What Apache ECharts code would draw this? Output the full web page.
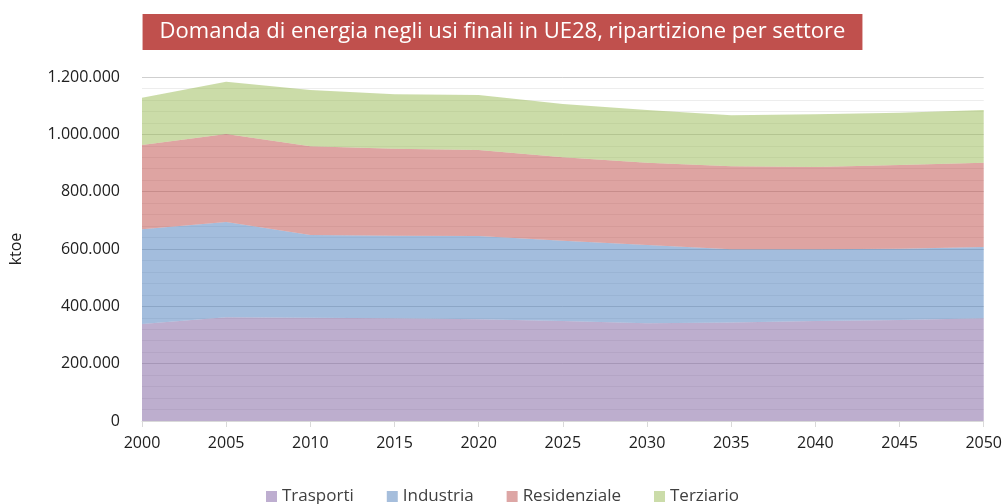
<!DOCTYPE html>
<html>
<head>
<meta charset="utf-8">
<script src="https://cdn.jsdelivr.net/npm/echarts@6/dist/echarts.min.js"></script>
<style>html,body{margin:0;padding:0;background:#fff}#c{width:1005px;height:504px}</style>
</head>
<body>
<div id="c"></div>
<script>
const years = ['2000','2005','2010','2015','2020','2025','2030','2035','2040','2045','2050'];
const trasporti    = [338000, 362000, 360000, 358000, 355000, 349000, 341000, 344000, 349000, 352000, 358000];
const industria    = [331000, 332000, 289000, 288000, 290000, 280000, 273000, 255000, 250000, 249000, 249000];
const residenziale = [294000, 307000, 309000, 304000, 300000, 291000, 287000, 290000, 287000, 292000, 294000];
const terziario    = [165000, 182000, 197000, 190000, 192000, 186000, 184000, 178000, 184000, 182000, 184000];
const seriesNames = ['Trasporti','Industria','Residenziale','Terziario'];
const seriesData = [trasporti, industria, residenziale, terziario];
const colors = ['#8064A2','#4F81BD','#C0504D','#9BBB59'];
const legendColors = ['#BEAED0','#A6BEDC','#DDA6A5','#CBDCA9'];

const fmt = v => String(v).replace(/\B(?=(\d{3})+(?!\d))/g, '.');
const font = 'Open Sans';

const chart = echarts.init(document.getElementById('c'), null, {renderer:'canvas'});
chart.setOption({
  animation: false,
  textStyle: {fontFamily: font},
  title: {
    text: 'Domanda di energia negli usi finali in UE28, ripartizione per settore',
    left: 'center', top: 14,
    backgroundColor: '#C0504D',
    padding: [7, 17, 7, 17],
    textStyle: {color: '#ffffff', fontFamily: font, fontSize: 22, fontWeight: 'normal'}
  },
  legend: {
    top: 483, left: 'center',
    icon: 'rect', itemWidth: 11, itemHeight: 11, itemGap: 33,
    textStyle: {color: '#404040', fontSize: 17, fontFamily: font},
    data: seriesNames
  },
  grid: {left: 142, right: 20, top: 77, bottom: 83, containLabel: false},
  xAxis: {
    type: 'category', data: years, boundaryGap: false,
    axisLine: {lineStyle: {color: '#d9d9d9'}},
    axisTick: {show: true, length: 6, lineStyle: {color: '#d9d9d9'}},
    axisLabel: {color: '#202020', fontSize: 16, margin: 14, fontFamily: font}
  },
  yAxis: {
    type: 'value', min: 0, max: 1200000, interval: 200000,
    name: 'ktoe', nameLocation: 'middle', nameGap: 118, nameRotate: 90,
    nameTextStyle: {color: '#202020', fontSize: 16, fontFamily: font},
    axisLine: {show: false}, axisTick: {show: false},
    axisLabel: {color: '#202020', fontSize: 16, margin: 22, formatter: fmt, fontFamily: font},
    splitLine: {lineStyle: {color: '#cfcfcf', width: 1}},
    minorTick: {show: false, splitNumber: 5},
    minorSplitLine: {show: true, lineStyle: {color: '#ededed', width: 1}}
  },
  series: seriesNames.map((n, i) => ({
    name: n, type: 'line', stack: 'tot', data: seriesData[i],
    symbol: 'none', showSymbol: false,
    lineStyle: {width: 0},
    itemStyle: {color: legendColors[i]},
    areaStyle: {color: colors[i], opacity: 0.52}
  }))
});
</script>
</body>
</html>
